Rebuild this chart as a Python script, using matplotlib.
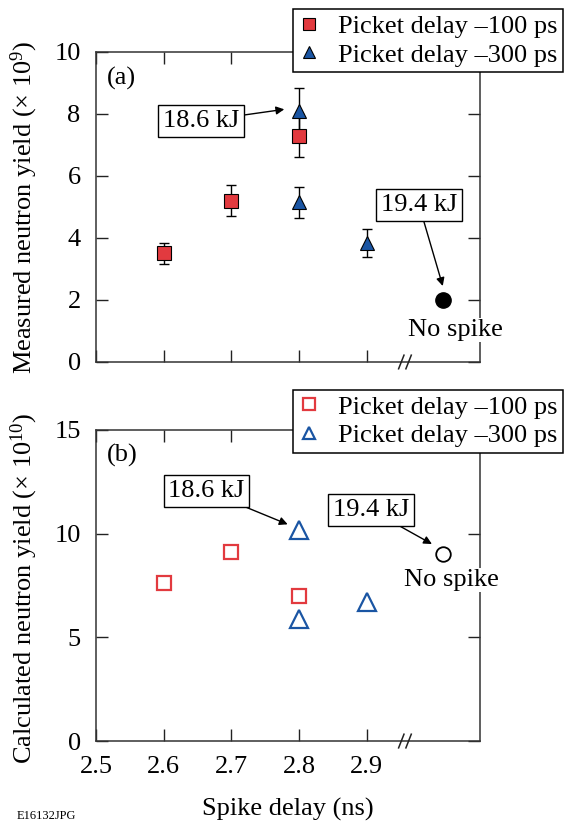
import matplotlib
matplotlib.use("Agg")
import matplotlib.pyplot as plt

plt.rcParams['font.family'] = ['Liberation Serif', 'DejaVu Serif']
plt.rcParams['mathtext.fontset'] = 'custom'
plt.rcParams['mathtext.rm'] = 'Liberation Serif'
plt.rcParams['mathtext.it'] = 'Liberation Serif:italic'

# data
delay_100 = [2.6, 2.7, 2.8]
meas_100 = [3.5, 5.2, 7.3]
meas_100_err = [0.35, 0.5, 0.7]
delay_300 = [2.8, 2.8, 2.9]
meas_300 = [8.1, 5.15, 3.85]
meas_300_err = [0.75, 0.5, 0.45]
nospike_x = 3.013
meas_nospike = 2.0

calc_100 = [7.6, 9.1, 7.0]
calc_300 = [10.2, 5.9, 6.7]
calc_nospike = 9.0

xticks = [2.5, 2.6, 2.7, 2.8, 2.9]
red = '#e23a3f'
blue = '#1a55a3'
fs = 19

fig = plt.figure(figsize=(5.67, 8.21), dpi=100)
ax1 = fig.add_axes([0.1693, 0.5591, 0.6773, 0.3776])
ax2 = fig.add_axes([0.1693, 0.0974, 0.6773, 0.3789])


def style(ax, ymax, yticks):
    ax.set_xlim(2.5, 3.067)
    ax.set_ylim(0, ymax)
    ax.set_xticks(xticks)
    ax.set_yticks(yticks)
    ax.tick_params(direction='in', length=8.5, width=1, top=True, right=True,
                   labelsize=fs, pad=11, colors='#222222', labelcolor='black')
    for s in ax.spines.values():
        s.set_linewidth(1.1)
        s.set_color('#333333')
    # axis break marks
    for dx in (0.0, 0.019):
        ax.plot([0.788 + dx, 0.802 + dx], [-0.022, 0.022], transform=ax.transAxes,
                color='#222222', lw=1.1, clip_on=False, zorder=5)


style(ax1, 10, [0, 2, 4, 6, 8, 10])
style(ax2, 15, [0, 5, 10, 15])
ax1.tick_params(labelbottom=False)

# (a) measured
ax1.errorbar(delay_100, meas_100, yerr=meas_100_err, fmt='none', ecolor='black',
             elinewidth=1, capsize=3.5, capthick=1, zorder=2)
ax1.errorbar(delay_300, meas_300, yerr=meas_300_err, fmt='none', ecolor='black',
             elinewidth=1, capsize=3.5, capthick=1, zorder=2)
ax1.plot(delay_100, meas_100, 's', ms=9.5, mfc=red, mec='black', mew=0.8, zorder=3,
         label='Picket delay \u2013100 ps')
ax1.plot(delay_300, meas_300, '^', ms=10.5, mfc=blue, mec='black', mew=0.8, zorder=3,
         label='Picket delay \u2013300 ps')
ax1.plot([nospike_x], [meas_nospike], 'o', ms=11, color='black', zorder=3)

# (b) calculated
ax2.plot(delay_100, calc_100, 's', ms=10.5, mfc='none', mec=red, mew=1.6, zorder=3,
         label='Picket delay \u2013100 ps')
ax2.plot(delay_300, calc_300, '^', ms=13, mfc='none', mec=blue, mew=1.6, zorder=3,
         label='Picket delay \u2013300 ps')
ax2.plot([nospike_x], [calc_nospike], 'o', ms=10.5, mfc='none', mec='black', mew=1.3,
         zorder=3)

box = dict(boxstyle='square,pad=0.18', fc='white', ec='black', lw=1)
arrow = dict(arrowstyle='-|>', color='black', lw=1, mutation_scale=12, shrinkA=0, shrinkB=0)

ax1.annotate('18.6 kJ', xy=(2.778, 8.15), xytext=(2.655, 7.77), fontsize=fs,
             ha='center', va='center', bbox=box, arrowprops=arrow, zorder=4)
ax1.annotate('19.4 kJ', xy=(3.012, 2.45), xytext=(2.977, 5.06), fontsize=fs,
             ha='center', va='center', bbox=box, arrowprops=arrow, zorder=4)
ax1.text(3.03, 1.03, 'No spike', fontsize=fs, ha='center', va='center',
         bbox=dict(boxstyle='square,pad=0.05', fc='white', ec='none'), clip_on=False, zorder=4)
ax1.text(2.537, 9.16, '(a)', fontsize=fs, ha='center', va='center')

ax2.annotate('18.6 kJ', xy=(2.783, 10.45), xytext=(2.663, 12.06), fontsize=fs,
             ha='center', va='center', bbox=box, arrowprops=arrow, zorder=4)
ax2.annotate('19.4 kJ', xy=(2.996, 9.5), xytext=(2.906, 11.14), fontsize=fs,
             ha='center', va='center', bbox=box, arrowprops=arrow, zorder=4)
ax2.text(3.025, 7.77, 'No spike', fontsize=fs, ha='center', va='center',
         bbox=dict(boxstyle='square,pad=0.05', fc='white', ec='none'), clip_on=False, zorder=4)
ax2.text(2.539, 13.75, '(b)', fontsize=fs, ha='center', va='center')

for ax, top in ((ax1, 1.138), (ax2, 1.129)):
    leg = ax.legend(loc='upper right', bbox_to_anchor=(1.216, top), borderaxespad=0,
                    fontsize=fs, frameon=True, fancybox=False, framealpha=1,
                    edgecolor='black', handlelength=0.8, handletextpad=0.7,
                    borderpad=0.2, labelspacing=0.2, numpoints=1)
    leg.get_frame().set_linewidth(1.1)
    leg.set_zorder(10)
    for h in leg.legend_handles:
        h.set_markersize(8.5)

ax1.set_ylabel('Measured neutron yield (\u00d7 10$^{9}$)', fontsize=fs)
ax2.set_ylabel('Calculated neutron yield (\u00d7 10$^{10}$)', fontsize=fs)
ax1.yaxis.set_label_coords(-0.146, 0.5)
ax2.yaxis.set_label_coords(-0.146, 0.49)
ax2.set_xlabel('Spike delay (ns)', fontsize=fs)
ax2.xaxis.set_label_coords(0.5, -0.183)

fig.text(0.03, 0.014, 'E16132JPG', fontsize=9, va='top', ha='left')

fig.savefig('out.png', dpi=100)
